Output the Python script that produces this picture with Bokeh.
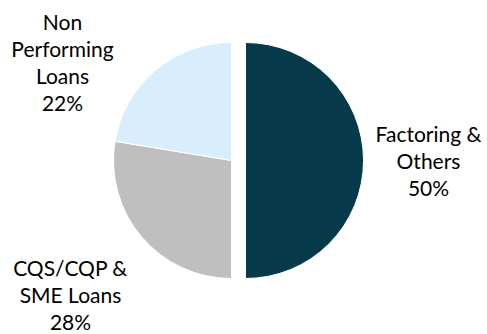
import math
from bokeh.plotting import figure
from bokeh.models import Range1d, ColumnDataSource
from bokeh.core.properties import value
from bokeh.embed import file_html
from bokeh.resources import INLINE

# ---- data ----
categories = ["Factoring &\nOthers", "CQS/CQP &\nSME Loans", "Non\nPerforming\nLoans"]
shares = [50, 27.6, 22.4]
colors = ["#063A4B", "#BFBFBF", "#D9EEFC"]

# ---- layout (pixels) ----
W, H = 487, 334
cx, cy, R = 238, 160, 118
explode_dx = [7, -7, -7]
label_pos = [(428, 160), (70, 294), (62, 61)]

p = figure(width=W, height=H, output_backend="svg", toolbar_location=None,
           x_range=Range1d(0, W), y_range=Range1d(0, H),
           x_axis_location=None, y_axis_location=None, min_border=0)
p.grid.visible = False
p.outline_line_color = None
p.background_fill_color = "white"
p.border_fill_color = "white"

total = sum(shares)
start = math.pi / 2
xs, ys, sa, ea = [], [], [], []
for v, dx in zip(shares, explode_dx):
    end = start - 2 * math.pi * v / total
    xs.append(cx + dx)
    ys.append(H - cy)
    sa.append(start)
    ea.append(end)
    start = end

src = ColumnDataSource(dict(x=xs, y=ys, s=sa, e=ea, c=colors))
p.wedge(x="x", y="y", radius=R, start_angle="s", end_angle="e", direction="clock",
        fill_color="c", line_color="white", line_width=1, source=src)

texts = [f"{c}\n{round(100 * v / total)}%" for c, v in zip(categories, shares)]
lsrc = ColumnDataSource(dict(x=[lp[0] for lp in label_pos],
                             y=[H - lp[1] for lp in label_pos], t=texts))
p.text(x="x", y="y", text="t", source=lsrc, text_align="center", text_baseline="middle",
       text_font=value("Lato"), text_font_size="21px", text_color="#000000",
       text_line_height=1.08)

open("out.html", "w").write(file_html(p, INLINE))
